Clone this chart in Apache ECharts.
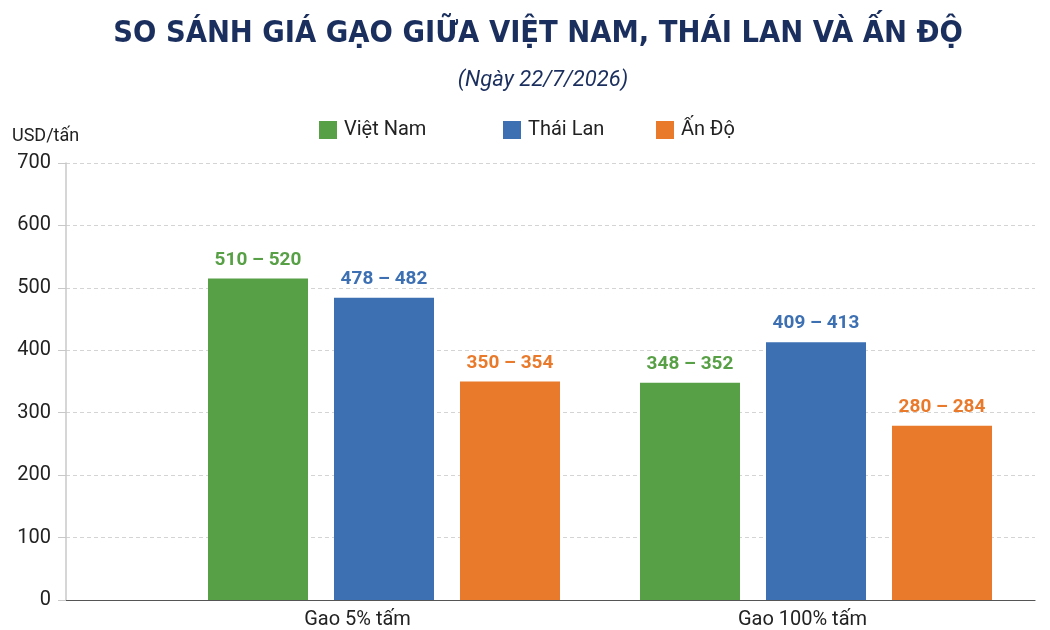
<!DOCTYPE html>
<html>
<head>
<meta charset="utf-8">
<script src="https://cdn.jsdelivr.net/npm/echarts@6/dist/echarts.min.js"></script>
<style>html,body{margin:0;padding:0;background:#fff;}#c{width:1050px;height:630px;}</style>
</head>
<body>
<div id="c"></div>
<script>
const categories = ['Gao 5% tấm', 'Gao 100% tấm'];
const seriesNames = ['Việt Nam', 'Thái Lan', 'Ấn Độ'];
const vietNam = [515, 348];
const thaiLan = [484, 413];
const anDo = [350, 279];
const vietNamLabels = ['510 – 520', '348 – 352'];
const thaiLanLabels = ['478 – 482', '409 – 413'];
const anDoLabels = ['350 – 354', '280 – 284'];
const yTicks = [0, 100, 200, 300, 400, 500, 600, 700];

const colors = ['#58a046', '#3d70b3', '#ea7a2b'];
const FONT = 'Roboto';
const chart = echarts.init(document.getElementById('c'), null, {renderer: 'canvas'});

function mkBar(name, data, labels, color) {
  return {
    name: name, type: 'bar', xAxisIndex: 1, yAxisIndex: 1,
    data: data, barWidth: 100, barGap: '26%',
    itemStyle: {color: color},
    label: {
      show: true, position: 'top', distance: 9,
      formatter: p => labels[p.dataIndex],
      color: color, fontFamily: FONT, fontWeight: 'bold', fontSize: 19
    }
  };
}

const hiddenY = {type: 'value', min: 0, max: 700, interval: 100, show: false, splitLine: {show: false}};

chart.setOption({
  animation: false,
  backgroundColor: '#ffffff',
  title: [
    {text: 'SO SÁNH GIÁ GẠO GIỮA VIỆT NAM, THÁI LAN VÀ ẤN ĐỘ', left: 533, textAlign: 'center', top: 14,
     textStyle: {fontFamily: 'DejaVu Sans Condensed', fontWeight: 'bold', fontSize: 30.5, color: '#1b2f5e'}},
    {text: '(Ngày 22/7/2026)', left: 538, textAlign: 'center', top: 64,
     textStyle: {fontFamily: FONT, fontStyle: 'italic', fontWeight: 'normal', fontSize: 22, color: '#1b2f5e'}}
  ],
  legend: [
    {data: [seriesNames[0]], left: 314, top: 115},
    {data: [seriesNames[1]], left: 498, top: 115},
    {data: [seriesNames[2]], left: 651, top: 115}
  ].map(l => Object.assign(l, {itemWidth: 18, itemHeight: 18, itemGap: 10, icon: 'rect',
      textStyle: {fontFamily: FONT, fontSize: 20, color: '#222', padding: [0, 0, 0, 2]}})),
  grid: [
    {left: 66, right: 15, top: 163, bottom: 30},
    {left: 168, right: 18, top: 163, bottom: 30},
    {left: 135, right: 25, top: 163, bottom: 30}
  ],
  xAxis: [
    {type: 'category', gridIndex: 0, data: categories,
     axisLine: {show: true, lineStyle: {color: '#555', width: 1.2}},
     axisTick: {show: false}, axisLabel: {show: false}},
    {type: 'category', gridIndex: 1, data: categories, show: false},
    {type: 'category', gridIndex: 2, data: categories,
     axisLine: {show: false}, axisTick: {show: false},
     axisLabel: {fontFamily: FONT, fontSize: 20, color: '#222', margin: 11}}
  ],
  yAxis: [
    {type: 'value', gridIndex: 0, min: yTicks[0], max: yTicks[yTicks.length - 1], interval: 100,
     name: 'USD/tấn', nameLocation: 'end', nameGap: 18,
     nameTextStyle: {fontFamily: FONT, fontSize: 18, color: '#222', align: 'left', padding: [0, 0, 0, -54]},
     axisLine: {show: true, lineStyle: {color: '#c8c8c8', width: 1.5}},
     axisTick: {show: true, length: 8, lineStyle: {color: '#c8c8c8'}},
     axisLabel: {fontFamily: FONT, fontSize: 20, color: '#222', margin: 15},
     splitLine: {show: true, lineStyle: {color: '#d4d4d4', type: [4, 3], width: 1}}},
    Object.assign({gridIndex: 1}, hiddenY),
    Object.assign({gridIndex: 2}, hiddenY)
  ],
  series: [
    mkBar(seriesNames[0], vietNam, vietNamLabels, colors[0]),
    mkBar(seriesNames[1], thaiLan, thaiLanLabels, colors[1]),
    mkBar(seriesNames[2], anDo, anDoLabels, colors[2])
  ]
});
</script>
</body>
</html>
